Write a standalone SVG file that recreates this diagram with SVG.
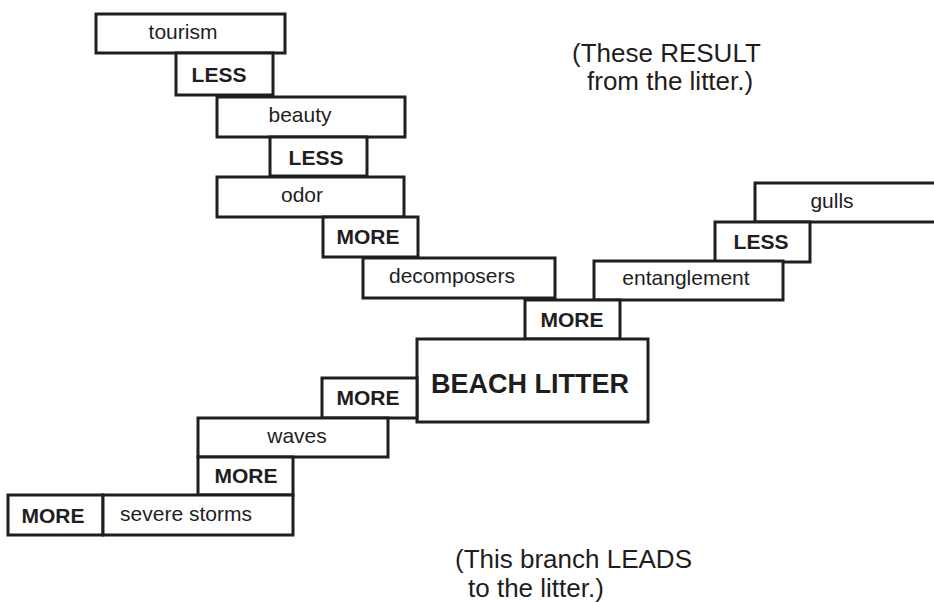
<svg xmlns="http://www.w3.org/2000/svg" width="934" height="602" viewBox="0 0 934 602">
<style>
  .box { fill: #ffffff; stroke: #1e1e1e; stroke-width: 3; }
  .lbl { font-family: "Liberation Sans", Arial, sans-serif; font-size: 21px; fill: #1e1e1e; text-anchor: middle; }
  .rel { font-family: "Liberation Sans", Arial, sans-serif; font-size: 21px; font-weight: bold; fill: #1e1e1e; text-anchor: middle; }
  .main { font-family: "Liberation Sans", Arial, sans-serif; font-size: 27px; font-weight: bold; fill: #1e1e1e; text-anchor: middle; }
  .note { font-family: "Liberation Sans", Arial, sans-serif; font-size: 26px; fill: #1e1e1e; }
</style>
<rect x="0" y="0" width="934" height="602" fill="#ffffff"/>
<g id="connectors"></g>
<g id="tourism"><rect class="box" x="96" y="14" width="189" height="39"/><text class="lbl" x="183" y="39">tourism</text></g>
<g id="less1"><rect class="box" x="176" y="53" width="97" height="42"/><text class="rel" x="219" y="82">LESS</text></g>
<g id="beauty"><rect class="box" x="217" y="97" width="188" height="40"/><text class="lbl" x="300" y="122">beauty</text></g>
<g id="less2"><rect class="box" x="270" y="137" width="97" height="39"/><text class="rel" x="316" y="165">LESS</text></g>
<g id="odor"><rect class="box" x="217" y="177" width="187" height="40"/><text class="lbl" x="302" y="202">odor</text></g>
<g id="more1"><rect class="box" x="323" y="217" width="95" height="40"/><text class="rel" x="368" y="244">MORE</text></g>
<g id="decomposers"><rect class="box" x="363" y="258" width="192" height="40"/><text class="lbl" x="452" y="283">decomposers</text></g>
<g id="gulls"><rect class="box" x="755" y="183" width="185" height="39"/><text class="lbl" x="832" y="208">gulls</text></g>
<g id="less3"><rect class="box" x="715" y="222" width="95" height="40"/><text class="rel" x="761" y="249">LESS</text></g>
<g id="entanglement"><rect class="box" x="594" y="261" width="189" height="39"/><text class="lbl" x="686" y="285">entanglement</text></g>
<g id="more2"><rect class="box" x="525" y="300" width="95" height="39"/><text class="rel" x="572" y="327">MORE</text></g>
<g id="beach-litter"><rect class="box" x="417" y="339" width="231" height="83"/><text class="main" x="530" y="393">BEACH LITTER</text></g>
<g id="more3"><rect class="box" x="322" y="378" width="95" height="40"/><text class="rel" x="368" y="405">MORE</text></g>
<g id="waves"><rect class="box" x="198" y="418" width="190" height="39"/><text class="lbl" x="297" y="443">waves</text></g>
<g id="more4"><rect class="box" x="198" y="457" width="95" height="38"/><text class="rel" x="246" y="483">MORE</text></g>
<g id="more5"><rect class="box" x="8" y="495" width="95" height="40"/><text class="rel" x="53" y="523">MORE</text></g>
<g id="severe-storms"><rect class="box" x="103" y="495" width="190" height="40"/><text class="lbl" x="186" y="521">severe storms</text></g>
<g id="note-result"><text class="note" x="572" y="62">(These RESULT</text><text class="note" x="587" y="90">from the litter.)</text></g>
<g id="note-leads"><text class="note" x="455" y="568">(This branch LEADS</text><text class="note" x="468" y="597">to the litter.)</text></g>
</svg>
